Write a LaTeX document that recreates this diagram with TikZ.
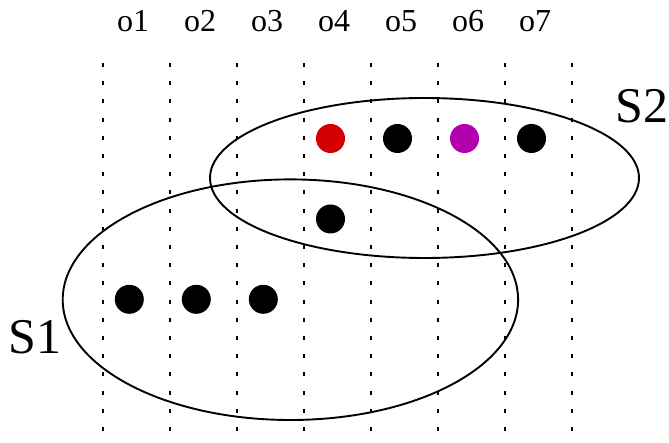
\documentclass[tikz,border=0pt]{standalone}
\usepackage{fontspec}
\setmainfont{Liberation Serif}
\definecolor{dotred}{RGB}{210,0,0}
\definecolor{dotmagenta}{RGB}{176,0,176}
\begin{document}
\begin{tikzpicture}[x=1pt,y=-1pt,
  guide/.style={line width=2pt, dash pattern=on 4pt off 14.2pt},
  setline/.style={line width=1.9pt},
  dot/.style={circle, fill=#1, draw=none, inner sep=0pt, minimum size=29pt},
  dot/.default=black,
  collabel/.style={font=\fontsize{32}{38}\selectfont, inner sep=0pt, anchor=base},
  setlabel/.style={font=\fontsize{50}{60}\selectfont, inner sep=0pt, anchor=base}]
  \useasboundingbox (0,0) rectangle (669,443);

  % dotted column separators
  \foreach \i in {0,...,7}
    \draw[guide] (102.7+67*\i,63) -- (102.7+67*\i,443);

  % column headings
  \foreach \i in {1,...,7}
    \node[collabel] (o\i) at (133+67*\i-67,32) {o\i};

  % the two sets
  \coordinate (c2) at (424.5,178);
  \coordinate (c1) at (290.4,299.7);
  \draw[setline] (c2) ellipse [x radius=214.5, y radius=80];
  \draw[setline] (c1) ellipse [x radius=227.7, y radius=120.3];
  \node[setlabel] (s1) at (35,353) {S1};
  \node[setlabel] (s2) at (642,123) {S2};

  % elements
  \node[dot=dotred]     (e4a) at (330.5,138.5) {};
  \node[dot]            (e5)  at (397.5,138.5) {};
  \node[dot=dotmagenta] (e6)  at (464.5,138.5) {};
  \node[dot]            (e7)  at (531.5,138.5) {};
  \node[dot]            (e4b) at (330.5,219) {};
  \node[dot]            (e1)  at (129.3,299.3) {};
  \node[dot]            (e2)  at (196.3,299.3) {};
  \node[dot]            (e3)  at (263.3,299.3) {};
\end{tikzpicture}
\end{document}
